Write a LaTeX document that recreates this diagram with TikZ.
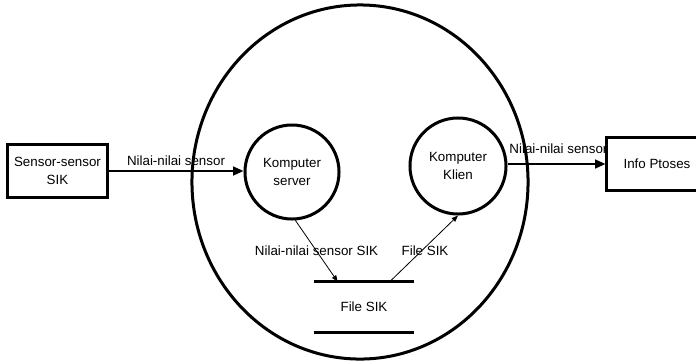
\documentclass[tikz,border=0pt]{standalone}
\usepackage{fontspec}
\setmainfont{Liberation Sans}
\usetikzlibrary{arrows.meta}

\tikzset{
  proc/.style={draw,circle,line width=.75mm,inner sep=0pt,align=center},
  ext/.style={draw,rectangle,line width=.75mm,inner sep=0pt,align=center},
  flow/.style={line width=.5mm,-{Triangle[length=2.6mm,width=2.2mm]}},
  thinflow/.style={line width=.2mm,-{Triangle[length=1.6mm,width=1.2mm]}},
}

\begin{document}
\begin{tikzpicture}[x=.025cm,y=-.025cm,font=\fontsize{9.5}{12.5}\selectfont]
  \clip (0,0) rectangle (696,363);
  \fill[white] (0,0) rectangle (696,363);

  \draw[line width=.75mm] (360,182) ellipse [x radius=4.2cm,y radius=4.425cm];

  \node[ext,minimum width=2.475cm,minimum height=1.3cm] (sensor) at (57.5,171) {Sensor-sensor\\SIK};
  \node[ext,minimum width=2.5cm,minimum height=1.325cm] (info) at (657,164) {Info Ptoses};

  \node[proc,minimum size=2.35cm] (server) at (292,172) {Komputer\\server};
  \node[proc,minimum size=2.4cm] (klien) at (458,166) {Komputer\\Klien};

  \node[minimum width=2.5cm,minimum height=1.25cm,inner sep=0pt] (store) at (364,307) {File SIK};
  \draw[line width=.75mm] (store.north west) -- (store.north east);
  \draw[line width=.75mm] (store.south west) -- (store.south east);

  \draw[flow] (sensor.east) -- (sensor.east -| server.west) node[midway,above] {Nilai-nilai sensor};
  \draw[flow] (klien.east |- info.west) -- (info.west) node[pos=.52,above,yshift=.12cm] {Nilai-nilai sensor};

  \draw[thinflow] (server.-86) -- ([xshift=.6cm]store.north west) node[pos=.5] {Nilai-nilai sensor SIK};
  \draw[thinflow] ([xshift=1.9cm]store.north west) -- (klien.south) node[pos=.47,xshift=.08cm] {File SIK};
\end{tikzpicture}
\end{document}
